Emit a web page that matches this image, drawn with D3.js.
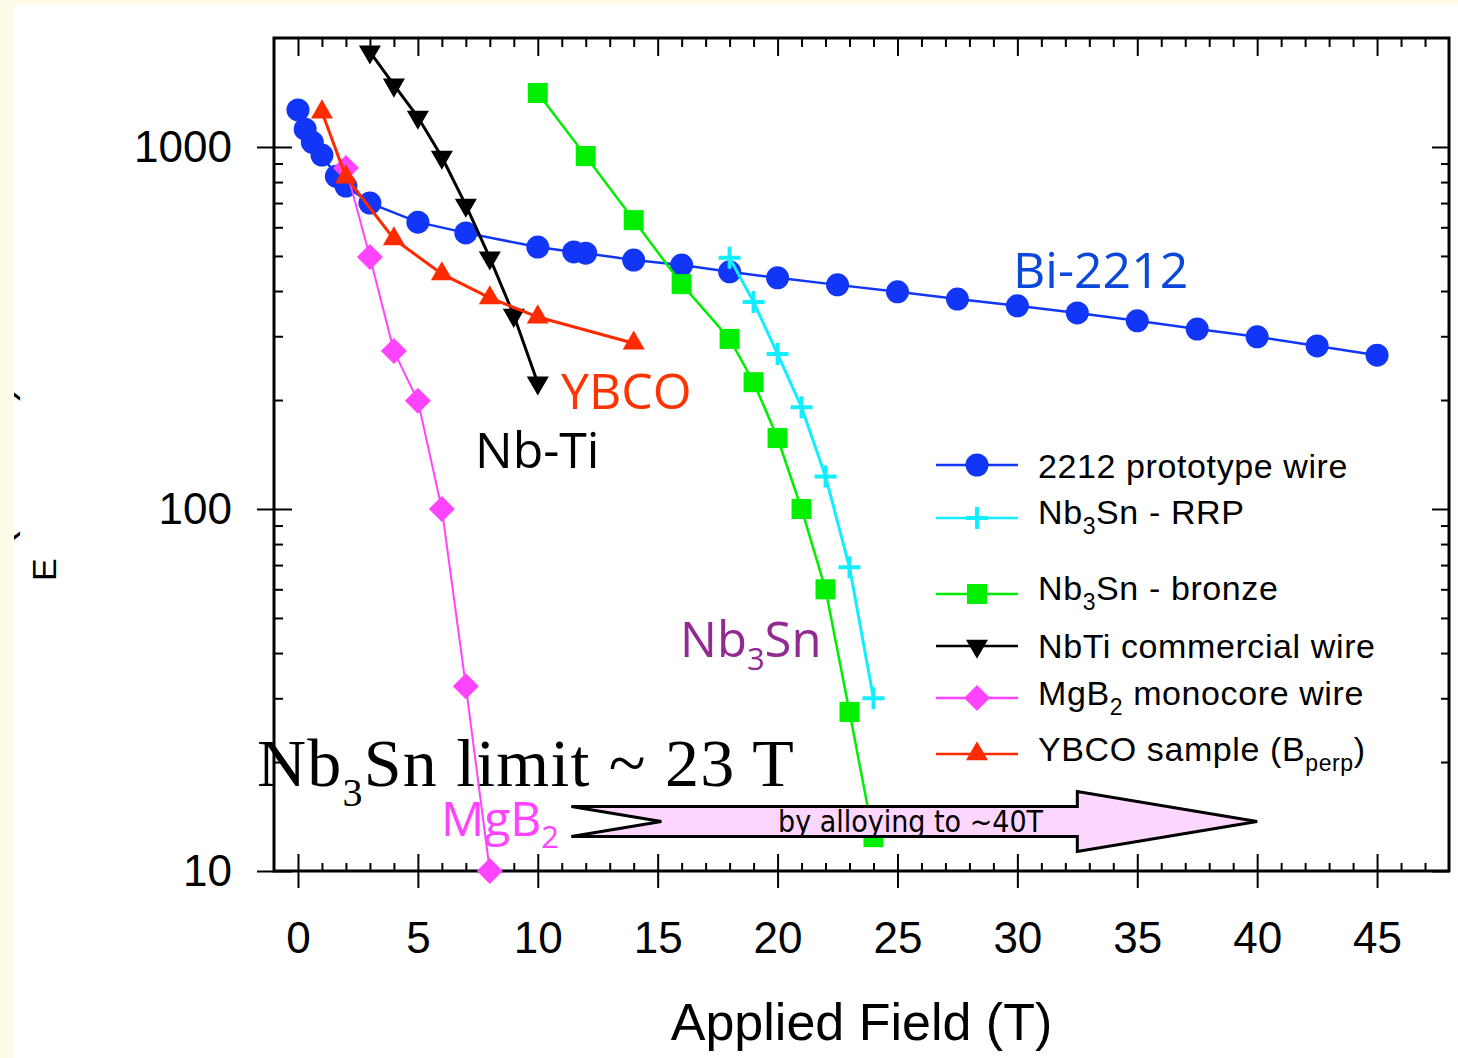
<!DOCTYPE html>
<html>
<head>
<meta charset="utf-8">
<script src="https://cdn.jsdelivr.net/npm/d3@7"></script>
<style>
  body { margin: 0; background: #fff; }
  svg { display: block; }
</style>
</head>
<body>
<svg></svg>
<script>
// values: applied field (T) and engineering current density (A/mm2)
let bi2212Field = [0, 0.3, 0.6, 1, 1.6, 2, 3, 5, 7, 10, 11.5, 12, 14, 16, 18, 20, 22.5, 25, 27.5, 30, 32.5, 35, 37.5, 40, 42.5, 45],
    bi2212Je = [1266, 1120, 1030, 950, 830, 780, 700, 620, 579, 529, 513, 509, 487, 472, 452, 435, 416, 398, 380, 364, 348, 331, 314, 299, 282, 266];

let rrpField = [18, 19, 20, 21, 22, 23, 24],
    rrpJe = [494, 373, 268, 191, 123, 69, 30];

let bronzeField = [10, 12, 14, 16, 18, 19, 20, 21, 22, 23, 24],
    bronzeJe = [1410, 944, 628, 418, 295, 224, 157, 100, 60, 27.5, 12.4];

let nbtiField = [3, 4, 5, 6, 7, 8, 9, 10],
    nbtiJe = [1831, 1484, 1210, 938, 691, 494, 343, 223];

let mgb2Field = [2, 3, 4, 5, 6, 7, 8],
    mgb2Je = [875, 497, 273, 199, 100, 32.4, 10];

let ybcoField = [1, 2, 4, 6, 8, 10, 14],
    ybcoJe = [1249, 826, 557, 446, 383, 339, 287];

let seriesNames = ["2212 prototype wire", "Nb3Sn - RRP", "Nb3Sn - bronze", "NbTi commercial wire", "MgB2 monocore wire", "YBCO sample (Bperp)"];

let xTickValues = [0, 5, 10, 15, 20, 25, 30, 35, 40, 45],
    yTickValues = [10, 100, 1000];

// arrow: tail, head start and tip in tesla, drawn at this Je
let arrowTail = 11.4, arrowHead = 32.5, arrowTip = 40, arrowJe = 13.7;

let svg = d3.select("svg").attr("width", 1458).attr("height", 1058),
    margin = {top: 38, right: 9, bottom: 187, left: 274},
    width = 1458 - margin.left - margin.right,
    height = 1058 - margin.top - margin.bottom;

let x = d3.scaleLinear().domain([-1, 48]).range([margin.left, margin.left + width]),
    y = d3.scaleLog().domain([10, 2000]).range([margin.top + height, margin.top]);

let sansFont = "'Liberation Sans', Arial, sans-serif",
    labelFont = "'Open Sans', 'Noto Sans', sans-serif";

let series = [
    {name: seriesNames[0], field: bi2212Field, je: bi2212Je, color: "#1236f8", width: 2.5, marker: "circle"},
    {name: seriesNames[1], field: rrpField, je: rrpJe, color: "#12eeff", width: 3, marker: "cross"},
    {name: seriesNames[2], field: bronzeField, je: bronzeJe, color: "#00ee00", width: 2.5, marker: "square"},
    {name: seriesNames[3], field: nbtiField, je: nbtiJe, color: "#000000", width: 3, marker: "down"},
    {name: seriesNames[4], field: mgb2Field, je: mgb2Je, color: "#ff44ff", width: 2, marker: "diamond"},
    {name: seriesNames[5], field: ybcoField, je: ybcoJe, color: "#ff2a00", width: 3, marker: "up"}
];

// background
svg.append("rect").attr("width", 1458).attr("height", 1058).attr("fill", "#fff");

// y axis title, mostly hidden behind the page edge
let ylab = svg.append("text")
    .attr("transform", "translate(11,603) rotate(-90)")
    .style("font-family", sansFont)
    .style("font-size", "44px")
    .attr("fill", "#000");
ylab.append("tspan").text("J");
ylab.append("tspan").attr("dy", 45).style("font-size", "34px").text("E");
ylab.append("tspan").attr("dy", -45).text(" (A/mm");
ylab.append("tspan").attr("dy", -14).style("font-size", "28px").text("2");
ylab.append("tspan").attr("dy", 14).text(")");

svg.append("rect").attr("x", 0).attr("y", 0).attr("width", 1458).attr("height", 5).attr("fill", "#fefbe8");
svg.append("rect").attr("x", 0).attr("y", 0).attr("width", 14).attr("height", 1058).attr("fill", "#fefbe8");

// annotation labels (behind the data)
function subLabel(px, py, parts, font, size, color, subSize, subShift, spacing) {
    let t = svg.append("text")
        .attr("x", px).attr("y", py)
        .style("font-family", font)
        .style("font-size", size + "px")
        .style("letter-spacing", (spacing || 0) + "px")
        .attr("fill", color);
    let shift = 0;
    parts.forEach(function (p) {
        if (p.sub) {
            t.append("tspan").attr("dy", subShift).style("font-size", subSize + "px").text(p.sub);
            shift = subShift;
        } else {
            t.append("tspan").attr("dy", -shift).text(p.t);
            shift = 0;
        }
    });
    return t;
}

subLabel(1013, 288, [{t: "Bi-2212"}], labelFont, 50, "#0a48dc");
subLabel(561, 409, [{t: "YBCO"}], labelFont, 50, "#ff3300");
subLabel(475, 468, [{t: "Nb-Ti"}], labelFont, 50, "#000");
subLabel(680, 657, [{t: "Nb"}, {sub: "3"}, {t: "Sn"}], labelFont, 49, "#922a92", 31, 13);
subLabel(441, 836, [{t: "MgB"}, {sub: "2"}], labelFont, 48, "#ff44ff", 31, 12);
subLabel(257, 786, [{t: "Nb"}, {sub: "3"}, {t: "Sn limit ~ 23 T"}], "'Liberation Serif', 'DejaVu Serif', serif", 68, "#000", 40, 20, 1.2);

// axes
let majorX = xTickValues,
    minorX = d3.range(1, 48).filter(function (v) { return v % 5 !== 0; }),
    minorY = [];
[10, 100, 1000].forEach(function (d) {
    for (let k = 2; k <= 9; k++) if (d * k < 2000) minorY.push(d * k);
});

function noDomain(g) { g.select(".domain").remove(); }

function axisStyle(g) {
    g.selectAll("line").attr("stroke", "#000").attr("stroke-width", 2);
    g.selectAll("text").style("font-family", sansFont).style("font-size", "44px").attr("fill", "#000");
}

let bottom = margin.top + height, right = margin.left + width;

svg.append("g")
    .attr("transform", "translate(0," + bottom + ")")
    .call(d3.axisBottom(x).tickValues(majorX).tickSize(17).tickFormat(d3.format("d")))
    .call(noDomain).call(axisStyle)
    .call(function (g) { g.selectAll("text").attr("y", 82).attr("dy", null); });
svg.append("g")
    .attr("transform", "translate(0," + bottom + ")")
    .call(d3.axisBottom(x).tickValues(majorX).tickSize(-17).tickFormat(""))
    .call(noDomain).call(axisStyle);
svg.append("g")
    .attr("transform", "translate(0," + bottom + ")")
    .call(d3.axisBottom(x).tickValues(minorX).tickSize(-8).tickFormat(""))
    .call(noDomain).call(axisStyle);

svg.append("g")
    .attr("transform", "translate(0," + margin.top + ")")
    .call(d3.axisTop(x).tickValues(majorX).tickSize(-18).tickFormat(""))
    .call(noDomain).call(axisStyle);
svg.append("g")
    .attr("transform", "translate(0," + margin.top + ")")
    .call(d3.axisTop(x).tickValues(minorX).tickSize(-9).tickFormat(""))
    .call(noDomain).call(axisStyle);

svg.append("g")
    .attr("transform", "translate(" + margin.left + ",0)")
    .call(d3.axisLeft(y).tickValues(yTickValues).tickSize(17).tickFormat(d3.format("d")))
    .call(noDomain).call(axisStyle)
    .call(function (g) { g.selectAll("text").attr("x", -42); });
svg.append("g")
    .attr("transform", "translate(" + margin.left + ",0)")
    .call(d3.axisLeft(y).tickValues(yTickValues).tickSize(-18).tickFormat(""))
    .call(noDomain).call(axisStyle);
svg.append("g")
    .attr("transform", "translate(" + margin.left + ",0)")
    .call(d3.axisLeft(y).tickValues(minorY).tickSize(-9).tickFormat(""))
    .call(noDomain).call(axisStyle);

svg.append("g")
    .attr("transform", "translate(" + right + ",0)")
    .call(d3.axisRight(y).tickValues(yTickValues).tickSize(-17).tickFormat(""))
    .call(noDomain).call(axisStyle);
svg.append("g")
    .attr("transform", "translate(" + right + ",0)")
    .call(d3.axisRight(y).tickValues(minorY).tickSize(-8).tickFormat(""))
    .call(noDomain).call(axisStyle);

// frame
svg.append("rect")
    .attr("x", margin.left).attr("y", margin.top)
    .attr("width", width).attr("height", height)
    .attr("fill", "none").attr("stroke", "#000").attr("stroke-width", 3);

// x axis title
svg.append("text")
    .attr("x", margin.left + width / 2).attr("y", 1040)
    .attr("text-anchor", "middle")
    .style("font-family", sansFont).style("font-size", "52px")
    .text("Applied Field (T)");

// markers
let triSize = 210;
function drawMarker(g, type, color) {
    if (type === "circle") {
        g.append("circle").attr("r", 11.5).attr("fill", color);
    } else if (type === "square") {
        g.append("rect").attr("x", -10).attr("y", -10).attr("width", 20).attr("height", 20).attr("fill", color);
    } else if (type === "diamond") {
        g.append("path").attr("d", "M0,-13L13,0L0,13L-13,0Z").attr("fill", color);
    } else if (type === "up") {
        g.append("path").attr("d", d3.symbol(d3.symbolTriangle, triSize)()).attr("fill", color);
    } else if (type === "down") {
        g.append("path").attr("d", d3.symbol(d3.symbolTriangle, triSize)())
            .attr("transform", "rotate(180)").attr("fill", color);
    } else if (type === "cross") {
        g.append("path").attr("d", "M-11,0H11M0,-11V11")
            .attr("stroke", color).attr("stroke-width", 4).attr("fill", "none");
    }
}

let line = d3.line()
    .x(function (d) { return x(d[0]); })
    .y(function (d) { return y(d[1]); });

series.forEach(function (s) {
    let pts = s.field.map(function (f, i) { return [f, s.je[i]]; });
    let g = svg.append("g").attr("class", "series");
    g.append("path")
        .attr("d", line(pts))
        .attr("fill", "none")
        .attr("stroke", s.color)
        .attr("stroke-width", s.width);
    g.selectAll(".pt")
        .data(pts)
        .enter().append("g")
        .attr("class", "pt")
        .attr("transform", function (d) { return "translate(" + x(d[0]) + "," + y(d[1]) + ")"; })
        .each(function () { drawMarker(d3.select(this), s.marker, s.color); });
});

// arrow "by alloying to ~40T"
let ay = y(arrowJe),
    shaft = 15, head = 30, notch = 90;
let arrowPath = d3.path();
arrowPath.moveTo(x(arrowTail), ay - shaft);
arrowPath.lineTo(x(arrowHead), ay - shaft);
arrowPath.lineTo(x(arrowHead), ay - head);
arrowPath.lineTo(x(arrowTip), ay);
arrowPath.lineTo(x(arrowHead), ay + head);
arrowPath.lineTo(x(arrowHead), ay + shaft);
arrowPath.lineTo(x(arrowTail), ay + shaft);
arrowPath.lineTo(x(arrowTail) + notch, ay);
arrowPath.closePath();
svg.append("path")
    .attr("d", arrowPath.toString())
    .attr("fill", "#fdd6fd")
    .attr("stroke", "#000")
    .attr("stroke-width", 3)
    .attr("stroke-linejoin", "miter");
svg.append("text")
    .attr("x", 778).attr("y", ay + 10)
    .style("font-family", "'DejaVu Sans Condensed', 'DejaVu Sans', sans-serif")
    .style("font-stretch", "condensed")
    .style("font-size", "30px")
    .text("by alloying to ~40T");

// legend
let legendRows = [465, 518, 594, 646, 698, 754],
    legendBase = [478, 524, 600, 658, 705, 761];
let legend = svg.append("g").attr("class", "legend");
series.forEach(function (s, i) {
    let row = legend.append("g");
    row.append("line")
        .attr("x1", 936).attr("x2", 1018)
        .attr("y1", legendRows[i]).attr("y2", legendRows[i])
        .attr("stroke", s.color).attr("stroke-width", 2.5);
    drawMarker(row.append("g").attr("transform", "translate(977," + legendRows[i] + ")"), s.marker, s.color);

    let t = row.append("text")
        .attr("x", 1038).attr("y", legendBase[i])
        .style("font-family", sansFont).style("font-size", "34px")
        .style("letter-spacing", "0.6px");
    // split subscripts out of names
    let m = s.name.match(/^(Nb)(3)(Sn.*)$/) || s.name.match(/^(MgB)(2)(.*)$/) || s.name.match(/^(YBCO sample \(B)(perp)(\))$/);
    if (m) {
        t.append("tspan").text(m[1]);
        t.append("tspan").attr("dy", 10).style("font-size", "23px").text(m[2]);
        t.append("tspan").attr("dy", -10).text(m[3]);
    } else {
        t.text(s.name);
    }
});
</script>
</body>
</html>
